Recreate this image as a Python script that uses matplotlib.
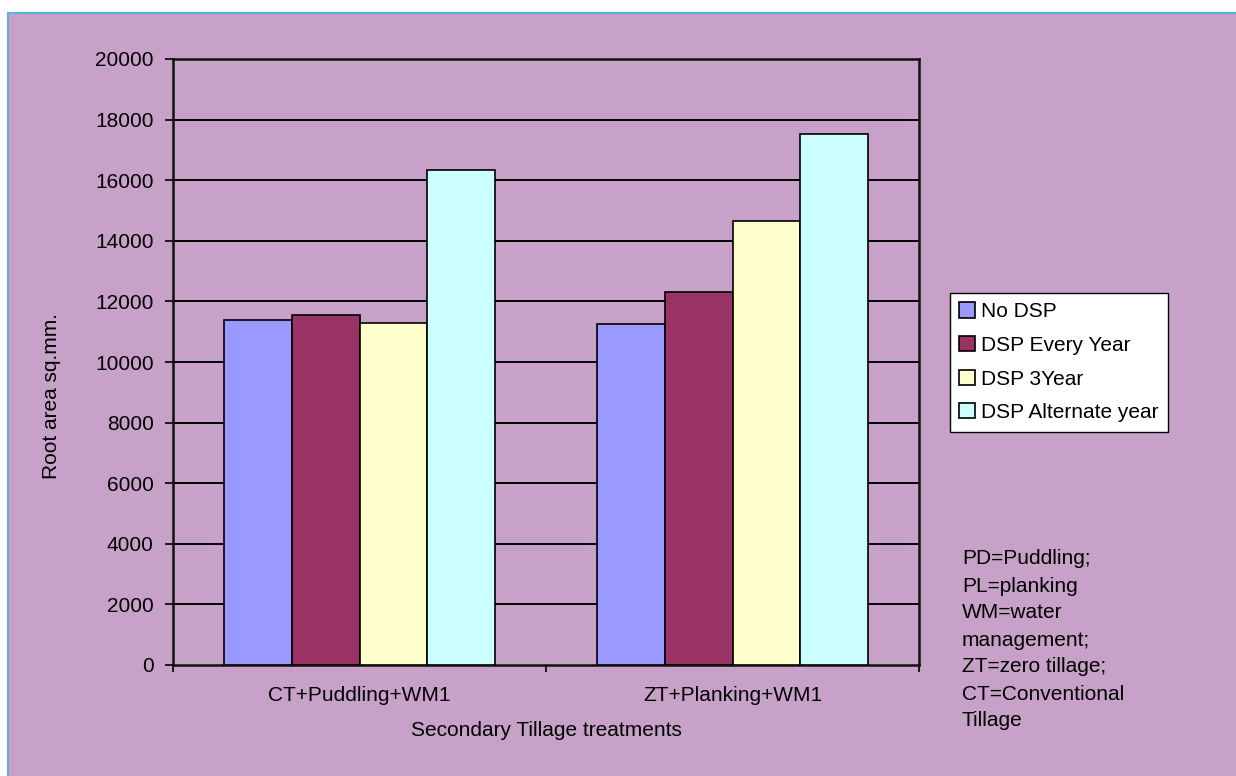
import numpy as np
import matplotlib
matplotlib.use('Agg')
import matplotlib.pyplot as plt
from matplotlib.patches import Rectangle

# --- datos ---
tratamientos = ['CT+Puddling+WM1', 'ZT+Planking+WM1']
series = ['No DSP', 'DSP Every Year', 'DSP 3Year', 'DSP Alternate year']
no_dsp = [11370, 11260]
dsp_every_year = [11555, 12310]
dsp_3year = [11290, 14660]
dsp_alternate = [16330, 17530]
yticks = [0, 2000, 4000, 6000, 8000, 10000, 12000, 14000, 16000, 18000, 20000]
notas = ['PD=Puddling;', 'PL=planking', 'WM=water', 'management;',
         'ZT=zero tillage;', 'CT=Conventional', 'Tillage']

colores = ['#9999FF', '#993366', '#FFFFCC', '#CCFFFF']
FONDO = '#C8A1C8'
FS = 15

plt.rcParams['font.family'] = ['Liberation Sans', 'DejaVu Sans']

W, H = 1236, 776
fig = plt.figure(figsize=(W / 100, H / 100), dpi=100, facecolor='white')

# marco de fondo con borde azul (detras de los ejes)
fig.patches.append(Rectangle((8 / W, -0.01), 1.0, (H - 13) / H + 0.01,
                             transform=fig.transFigure, facecolor=FONDO,
                             edgecolor='#5AB0E0', linewidth=1.5, zorder=-5))

ax = fig.add_axes([173 / W, (H - 665) / H, (919 - 173) / W, (665 - 59) / H])
ax.set_facecolor(FONDO)

x = np.arange(len(tratamientos))
ancho = 0.182
valores = [no_dsp, dsp_every_year, dsp_3year, dsp_alternate]
for i, (nombre, vals) in enumerate(zip(series, valores)):
    ax.bar(x + (i - 1.5) * ancho, vals, width=ancho, color=colores[i],
           edgecolor='black', linewidth=1.2, label=nombre, zorder=3)

ax.set_xlim(-0.5, 1.5)
ax.set_ylim(0, 20000)
ax.set_yticks(yticks)
ax.set_yticklabels([str(v) for v in yticks], fontsize=FS)
for v in yticks[1:]:
    ax.axhline(v, color='black', linewidth=1.4, zorder=1)

ax.set_xticks([-0.5, 0.5, 1.5])
ax.set_xticklabels([])
ax.set_xticks(x, minor=True)
ax.set_xticklabels(tratamientos, minor=True, fontsize=FS)
ax.tick_params(axis='x', which='minor', length=0, pad=15)
ax.tick_params(axis='x', which='major', length=5, width=1.2, direction='out')
ax.tick_params(axis='y', length=6, width=1.2, direction='out', pad=8)
for s in ax.spines.values():
    s.set_linewidth(1.8)
    s.set_color('#111111')

fig.text(546 / W, 1 - 731 / H, 'Secondary Tillage treatments', ha='center',
         va='center', fontsize=FS)
fig.text(52 / W, 1 - 396 / H, 'Root area sq.mm.', rotation=90, ha='center',
         va='center', fontsize=FS)

leg = ax.legend(loc='upper left', bbox_to_anchor=(950 / W, 1 - 293 / H),
                bbox_transform=fig.transFigure, fontsize=FS, frameon=True,
                fancybox=False, edgecolor='black', facecolor='white',
                framealpha=1, handlelength=0.75, handleheight=0.75,
                handletextpad=0.3, labelspacing=0.7, borderpad=0.45,
                borderaxespad=0)
leg.get_frame().set_linewidth(1.0)

for k, linea in enumerate(notas):
    fig.text(962 / W, 1 - (559 + k * 27) / H, linea, ha='left', va='center',
             fontsize=FS)

fig.savefig('out.png', dpi=100, facecolor=fig.get_facecolor())
